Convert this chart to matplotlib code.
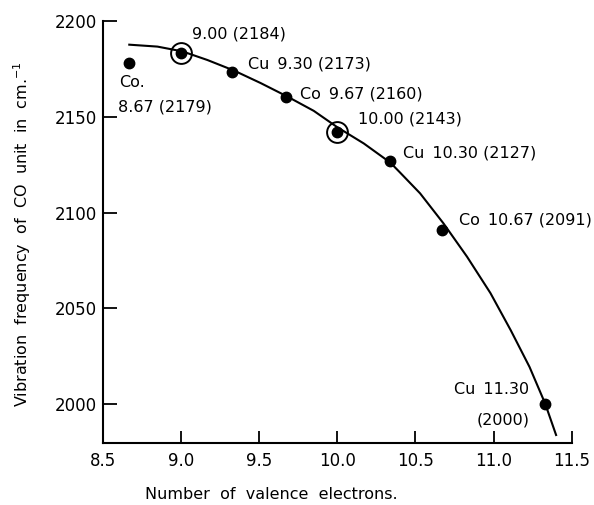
import numpy as np
import matplotlib
matplotlib.use("Agg")
import matplotlib.pyplot as plt

# measured points (valence electrons, CO frequency)
elec = [8.67, 9.00, 9.33, 9.67, 10.00, 10.34, 10.67, 11.33]
freq = [2178, 2183, 2173, 2160, 2142, 2127, 2091, 2000]
circled = [9.00, 10.00]
circled_freq = [2183, 2142]

# hand-drawn smooth curve
curve_x = [8.67, 8.85, 9.01, 9.17, 9.34, 9.51, 9.68, 9.85, 10.00, 10.17,
           10.34, 10.40, 10.53, 10.68, 10.83, 10.98, 11.11, 11.23, 11.33, 11.40]
curve_y = [2187.5, 2186.5, 2184, 2179.5, 2174, 2167.5, 2160.5, 2153, 2144.5, 2136,
           2126, 2121, 2110, 2094.3, 2077, 2058, 2038.6, 2019.5, 2000.4, 1984]

# labels: text, x, y, alignment
sp = "\u2002"
labels = ["Co.", "8.67 (2179)", "9.00 (2184)", "Cu" + sp + "9.30 (2173)",
          "Co" + sp + "9.67 (2160)", "10.00 (2143)", "Cu" + sp + "10.30 (2127)",
          "Co" + sp + "10.67 (2091)", "Cu" + sp + "11.30", "(2000)"]
lab_x = [8.605, 8.60, 9.07, 9.43, 9.76, 10.13, 10.42, 10.78, 11.23, 11.23]
lab_y = [2168, 2155, 2193, 2177.5, 2162, 2149, 2131, 2096, 2007.5, 1992]
lab_ha = ["left"] * 8 + ["right", "right"]

fig = plt.figure(figsize=(5.94, 5.05), dpi=100)
ax = fig.add_axes([0.1729, 0.1234, 0.7896, 0.8356])

ax.plot(curve_x, curve_y, color="black", lw=1.5, solid_joinstyle="round")
ax.plot(elec, freq, "o", color="black", ms=7.5)
ax.plot(circled, circled_freq, "o", mfc="none", mec="black", ms=15, mew=1.4)

for t, x, y, ha in zip(labels, lab_x, lab_y, lab_ha):
    ax.text(x, y, t, ha=ha, va="center", fontsize=11.5)

ax.set_xlim(8.5, 11.5)
ax.set_ylim(1980, 2200)
ax.set_xticks([8.5, 9.0, 9.5, 10.0, 10.5, 11.0, 11.5])
ax.set_xticklabels(["8.5", "9.0", "9.5", "10.0", "10.5", "11.0", "11.5"])
ax.set_yticks([2000, 2050, 2100, 2150, 2200])

for s in ["top", "right"]:
    ax.spines[s].set_visible(False)
for s in ["left", "bottom"]:
    ax.spines[s].set_linewidth(1.5)

ax.tick_params(axis="x", direction="in", length=9, width=1.3, pad=7, labelsize=12)
ax.tick_params(axis="y", direction="in", length=10, width=1.3, pad=4, labelsize=12)

ax.set_xlabel("Number  of  valence  electrons.", fontsize=11.5)
ax.xaxis.set_label_coords(0.359, -0.122)
ax.set_ylabel("Vibration  frequency  of  CO  unit  in  cm.$^{-1}$", fontsize=11.5)
ax.yaxis.set_label_coords(-0.172, 0.4945)
ax.xaxis.label.set_va("center")
ax.yaxis.label.set_va("center")

fig.savefig("out.png", dpi=100)
